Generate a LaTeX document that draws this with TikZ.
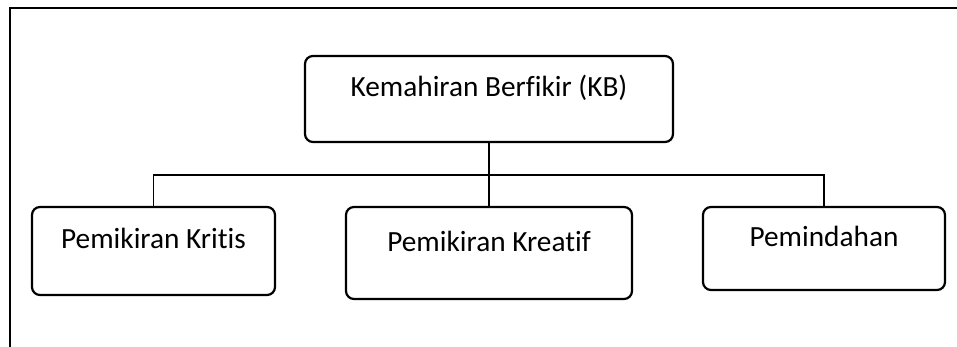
\documentclass[tikz,border=0pt]{standalone}
\usepackage{fontspec}
\setmainfont{Carlito}[Ligatures=NoCommon]
\usetikzlibrary{positioning}
\usetikzlibrary{calc}

\begin{document}
\begin{tikzpicture}[x=1pt, y=1pt,
        box/.style={draw, rounded corners=8pt, line width=2.2pt, inner sep=0pt,
            font=\fontsize{29.3}{34}\selectfont},
        link/.style={line width=1.8pt}]
        \useasboundingbox (0,0) rectangle (957,347);
        % page frame
        \draw [line width=2pt] (10,0) |- (957,339);

        \node [box, minimum width=368pt, text height=41pt, text depth=45pt]
            (kb) at (489,248)
            {Kemahiran Berfikir (KB)};
        \node [box, minimum width=243pt, text height=42pt, text depth=46pt]
            (kritis) at (153.5,96)
            {Pemikiran Kritis};
        \node [box, minimum width=286pt, text height=45pt, text depth=47pt]
            (kreatif) at (489,94)
            {Pemikiran Kreatif};
        \node [box, minimum width=242pt, text height=40pt, text depth=43pt]
            (pindah) at (824,98.5)
            {Pemindahan};

        \coordinate (bus) at (489,172);
        \draw [link] (kb.south) -- (kreatif.north);
        \draw [link] (kritis.north) |- (bus) -| (pindah.north);
    \end{tikzpicture}
\end{document}
